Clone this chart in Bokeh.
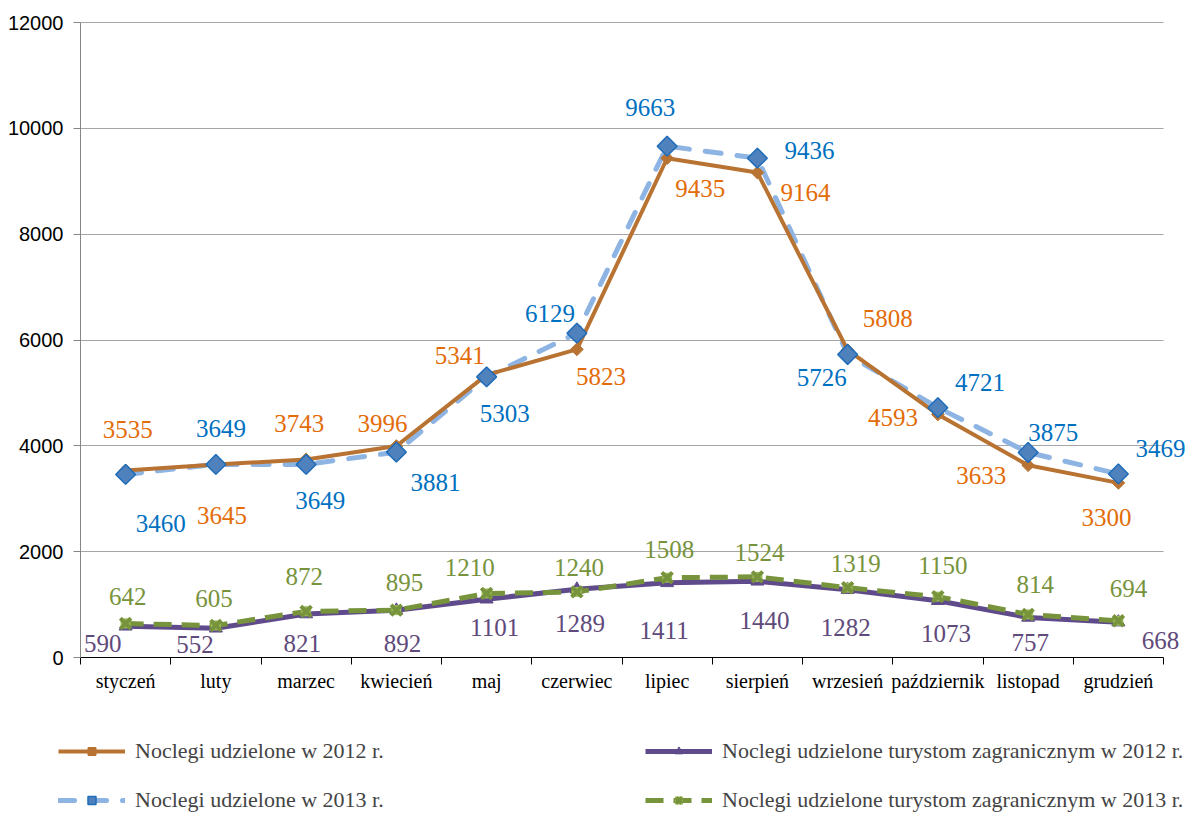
from bokeh.plotting import figure
from bokeh.models import ColumnDataSource, LabelSet, Legend, LegendItem, FixedTicker, Range1d
from bokeh.core.properties import value
from bokeh.embed import file_html
from bokeh.resources import INLINE

months = ["styczeń", "luty", "marzec", "kwiecień", "maj", "czerwiec", "lipiec",
          "sierpień", "wrzesień", "październik", "listopad", "grudzień"]
noclegi_2012 = [3535, 3645, 3743, 3996, 5341, 5823, 9435, 9164, 5808, 4593, 3633, 3300]
noclegi_2013 = [3460, 3649, 3649, 3881, 5303, 6129, 9663, 9436, 5726, 4721, 3875, 3469]
zagr_2012 = [590, 552, 821, 892, 1101, 1289, 1411, 1440, 1282, 1073, 757, 668]
zagr_2013 = [642, 605, 872, 895, 1210, 1240, 1508, 1524, 1319, 1150, 814, 694]
y_ticks = [0, 2000, 4000, 6000, 8000, 10000, 12000]

series_names = ["Noclegi udzielone w 2012 r.", "Noclegi udzielone w 2013 r.",
                "Noclegi udzielone turystom zagranicznym w 2012 r.",
                "Noclegi udzielone turystom zagranicznym w 2013 r."]

# label offsets in screen px (dx right, dy down)
off_2012 = [(2, -41), (6, 51), (-7, -36), (-14, -23), (-27, -19), (24, 27), (33, 30), (48, 20),
            (40, -32), (-45, 3), (-47, 10), (-12, 35)]
off_2013 = [(35, 49), (5, -36), (14, 36), (39, 30), (18, 37), (-27, -20), (-17, -39), (52, -8),
            (-26, 23), (42, -25), (25, -20), (42, -25)]
off_z2012 = [(-23, 17), (-21, 16), (-4, 29), (6, 33), (8, 28), (3, 34), (-3, 48), (7, 39),
             (-2, 38), (8, 33), (2, 25), (42, 18)]
off_z2013 = [(2, -27), (-2, -27), (-2, -35), (8, -28), (-17, -26), (2, -24), (2, -28), (2, -24),
             (8, -24), (5, -31), (7, -30), (10, -32)]

n = len(months)
xs = [i + 0.5 for i in range(n)]
YMAX = 12000

# canvas geometry (px): plot box from x=80..1163, y=22..657
W, H = 1185, 813
PX_L, PX_R, PX_T, PX_B = 80, 1163, 22, 657
ux = (PX_R - PX_L) / n
uy = (PX_B - PX_T) / YMAX
x_range = Range1d(-PX_L / ux, n + (W - PX_R) / ux)
y_range = Range1d(YMAX - (H - PX_T) / uy, YMAX + PX_T / uy)

# styles
ORANGE_LINE, ORANGE_TXT = "#B87333", "#E36C09"
BLUE_LINE, BLUE_MK, BLUE_EDGE, BLUE_TXT = "#8DB4E2", "#4F81BD", "#1F6CB8", "#0070C0"
PURPLE_LINE, PURPLE_TXT = "#5F4B8B", "#604A7B"
GREEN_LINE, GREEN_FILL, GREEN_TXT = "#77933C", "#9BBB59", "#77933C"

p = figure(width=W, height=H, x_range=x_range, y_range=y_range,
           output_backend="svg", toolbar_location=None,
           min_border_left=0, min_border_right=0, min_border_top=0, min_border_bottom=0)
p.outline_line_color = None
p.xgrid.visible = False
p.ygrid.ticker = FixedTicker(ticks=y_ticks[1:])
p.ygrid.grid_line_color = "#a6a6a6"
p.ygrid.grid_line_width = 1
p.ygrid.cross_bounds = (0, n)

xa = p.xaxis[0]
xa.fixed_location = 0
xa.bounds = (0, n)
xa.ticker = FixedTicker(ticks=xs, minor_ticks=list(range(n + 1)))
xa.major_label_overrides = {x: m for x, m in zip(xs, months)}
xa.major_tick_line_color = None
xa.major_tick_in = 0
xa.major_tick_out = 0
xa.minor_tick_in = 0
xa.minor_tick_out = 7
xa.minor_tick_line_color = "black"
xa.axis_line_color = "black"
xa.major_label_text_font = "Liberation Serif"
xa.major_label_text_font_size = "20px"
xa.major_label_text_color = "black"
xa.major_label_standoff = 5

ya = p.yaxis[0]
ya.fixed_location = 0
ya.bounds = (0, YMAX)
ya.ticker = FixedTicker(ticks=y_ticks)
ya.axis_line_color = "#868686"
ya.major_tick_line_color = "#868686"
ya.major_tick_in = 0
ya.major_tick_out = 7
ya.minor_tick_line_color = None
ya.major_label_text_font = "Liberation Sans"
ya.major_label_text_font_size = "20px"
ya.major_label_text_color = "black"
ya.major_label_standoff = 10

r_b_line = p.line(xs, noclegi_2013, line_color=BLUE_LINE, line_width=5, line_dash="16 16", line_cap="round")
r_o_line = p.line(xs, noclegi_2012, line_color=ORANGE_LINE, line_width=4)
r_o_pts = p.scatter(xs, noclegi_2012, marker="square", size=9, angle=45, angle_units="deg",
                    fill_color=ORANGE_LINE, line_color=ORANGE_LINE)
r_b_pts = p.scatter(xs, noclegi_2013, marker="square", size=14, angle=45, angle_units="deg",
                    fill_color=BLUE_MK, line_color=BLUE_EDGE, line_width=1.5)
r_p_line = p.line(xs, zagr_2012, line_color=PURPLE_LINE, line_width=5)
r_p_pts = p.scatter(xs, zagr_2012, marker="triangle", size=13, fill_color=PURPLE_LINE, line_color=PURPLE_LINE)
r_g_line = p.line(xs, zagr_2013, line_color=GREEN_LINE, line_width=5, line_dash="18 10")
r_g_sq = p.scatter(xs, zagr_2013, marker="square", size=10, fill_color=GREEN_FILL, line_color=None)
r_g_x = p.scatter(xs, zagr_2013, marker="x", size=15, line_color=GREEN_LINE, line_width=4)


def add_labels(vals, offs, color):
    src = ColumnDataSource(dict(x=xs, y=vals, t=[str(v) for v in vals],
                                dx=[o[0] for o in offs], dy=[-o[1] for o in offs]))
    ls = LabelSet(x="x", y="y", text="t", source=src, x_offset="dx", y_offset="dy",
                  text_align="center", text_baseline="middle",
                  text_font=value("Liberation Serif"), text_font_size="25px", text_color=color)
    p.add_layout(ls)


add_labels(noclegi_2012, off_2012, ORANGE_TXT)
add_labels(noclegi_2013, off_2013, BLUE_TXT)
add_labels(zagr_2012, off_z2012, PURPLE_TXT)
add_labels(zagr_2013, off_z2013, GREEN_TXT)

common = dict(orientation="vertical", glyph_width=67, glyph_height=20, label_height=20,
              spacing=23, padding=0, margin=0, border_line_color=None, background_fill_alpha=0,
              label_text_font="Liberation Serif", label_text_font_size="22px", label_standoff=10)
leg1 = Legend(items=[LegendItem(label=series_names[0], renderers=[r_o_line, r_o_pts]),
                     LegendItem(label=series_names[1], renderers=[r_b_line, r_b_pts])],
              location=(58, 0), **common)
leg2 = Legend(items=[LegendItem(label=series_names[2], renderers=[r_p_line, r_p_pts]),
                     LegendItem(label=series_names[3], renderers=[r_g_line, r_g_sq, r_g_x])],
              location=(645, 0), **common)
p.add_layout(leg1)
p.add_layout(leg2)

open("out.html", "w").write(file_html(p, INLINE))
